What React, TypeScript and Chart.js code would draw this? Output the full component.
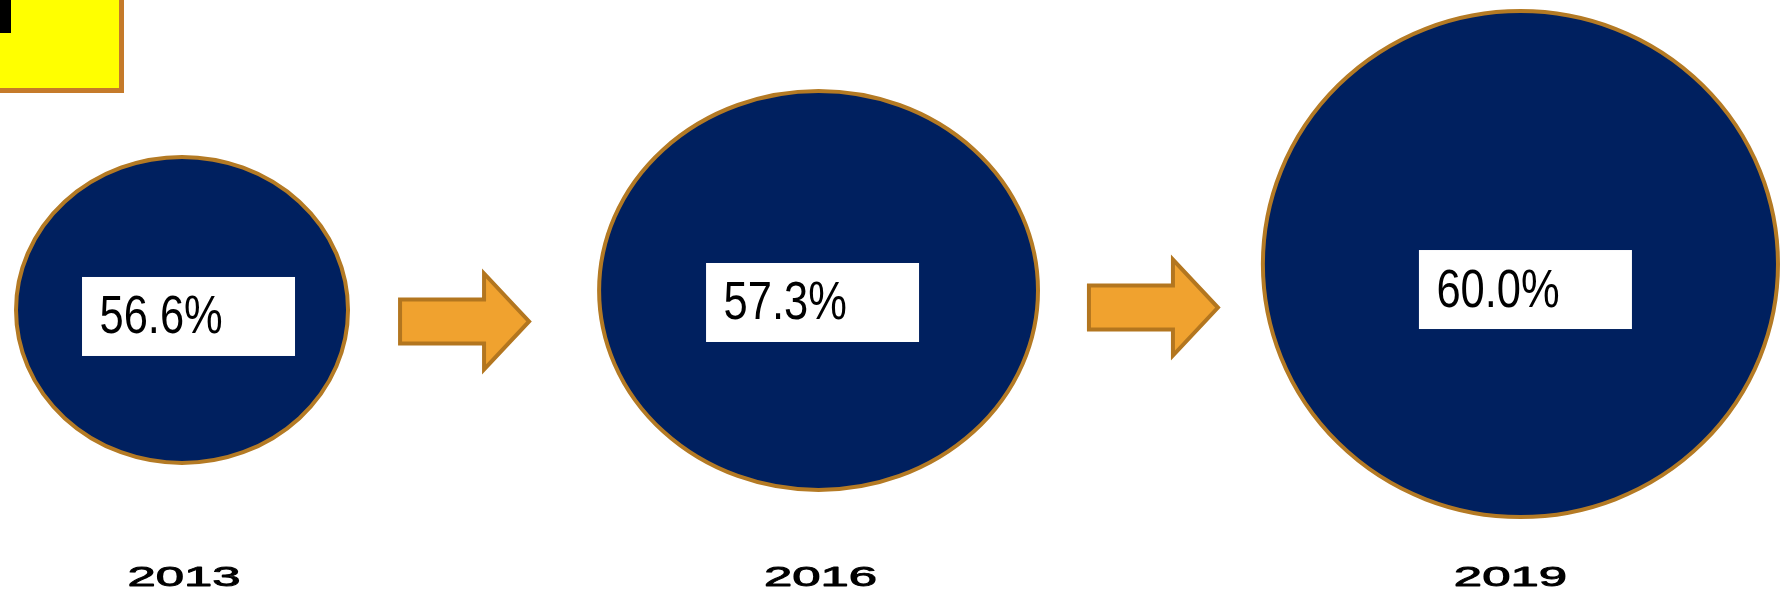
import React, { useEffect, useRef } from "react";
import { Chart, registerables } from "chart.js";

Chart.register(...registerables);

// ---- data ----
const years = ["2013", "2016", "2019"];
const rates = [56.6, 57.3, 60.0];
const bubbleX = [10.22, 45.96, 85.37];
const bubbleY = [47.99, 51.26, 55.7];
const bubbleR = [153, 199.5, 253];

// ---- styles ----
const NAVY = "#00205F";
const BUBBLE_BORDER = "#B47A24";
const ARROW_FILL = "#F0A22F";
const ARROW_STROKE = "#B3761F";
const ellipseStretch = [1.085, 1.1, 1.018];
const labelOffset = [
  [-100, -33],
  [-112.5, -27.5],
  [-101.5, -14],
];
const yearShift = [2, 2, -10];
const arrowShift = [
  [-9, 21.25],
  [3, 30.25],
];

const infographicPlugin = {
  id: "infographic",
  beforeDatasetsDraw(chart: any) {
    const ctx = chart.ctx as CanvasRenderingContext2D;
    // cut-off title box in the corner
    ctx.save();
    ctx.fillStyle = "#FFFF00";
    ctx.fillRect(-20, -20, 141.5, 110.5);
    ctx.lineWidth = 5;
    ctx.strokeStyle = "#C57A2A";
    ctx.strokeRect(-20, -20, 141.5, 110.5);
    ctx.fillStyle = "#000000";
    ctx.fillRect(0, 0, 11, 33);
    ctx.restore();

    // arrows between bubbles
    const meta = chart.getDatasetMeta(0);
    const pts = meta.data;
    ctx.save();
    for (let i = 0; i < pts.length - 1; i++) {
      const a = pts[i];
      const b = pts[i + 1];
      const ra = bubbleR[i] * ellipseStretch[i] + 2;
      const rb = bubbleR[i + 1] * ellipseStretch[i + 1] + 2;
      const cx = (a.x + ra + (b.x - rb)) / 2 + arrowShift[i][0];
      const cy = (a.y + b.y) / 2 + arrowShift[i][1];
      ctx.beginPath();
      ctx.moveTo(cx - 64.5, cy - 22);
      ctx.lineTo(cx + 19.5, cy - 22);
      ctx.lineTo(cx + 19.5, cy - 48);
      ctx.lineTo(cx + 64.5, cy);
      ctx.lineTo(cx + 19.5, cy + 48);
      ctx.lineTo(cx + 19.5, cy + 22);
      ctx.lineTo(cx - 64.5, cy + 22);
      ctx.closePath();
      ctx.fillStyle = ARROW_FILL;
      ctx.fill();
      ctx.lineWidth = 4;
      ctx.lineJoin = "miter";
      ctx.strokeStyle = ARROW_STROKE;
      ctx.stroke();
    }
    ctx.restore();
  },
  beforeDatasetDraw(chart: any, args: any) {
    const ctx = chart.ctx as CanvasRenderingContext2D;
    const meta = args.meta;
    ctx.save();
    meta.data.forEach((el: any, i: number) => {
      const r = el.options.radius;
      ctx.beginPath();
      ctx.ellipse(el.x, el.y, r * ellipseStretch[i], r, 0, 0, Math.PI * 2);
      ctx.fillStyle = NAVY;
      ctx.fill();
      ctx.lineWidth = 4;
      ctx.strokeStyle = BUBBLE_BORDER;
      ctx.stroke();
    });
    ctx.restore();
    return false;
  },
  afterDatasetsDraw(chart: any) {
    const ctx = chart.ctx as CanvasRenderingContext2D;
    const meta = chart.getDatasetMeta(0);
    ctx.save();
    meta.data.forEach((el: any, i: number) => {
      const bx = el.x + labelOffset[i][0];
      const by = el.y + labelOffset[i][1];
      ctx.fillStyle = "#FFFFFF";
      ctx.fillRect(bx, by, 213, 79);
      ctx.save();
      ctx.translate(bx + 17.5, by + 56.5);
      ctx.scale(0.82, 1);
      ctx.fillStyle = "#000000";
      ctx.font = "53px 'Liberation Sans', Arial, sans-serif";
      ctx.textAlign = "left";
      ctx.textBaseline = "alphabetic";
      ctx.fillText(rates[i].toFixed(1) + "%", 0, 0);
      ctx.restore();

      // year label
      ctx.save();
      ctx.translate(el.x + yearShift[i], 586);
      ctx.scale(1.85, 1);
      ctx.fillStyle = "#000000";
      ctx.strokeStyle = "#000000";
      ctx.lineWidth = 0.9;
      ctx.lineJoin = "round";
      ctx.font = "27.5px 'Liberation Sans', Arial, sans-serif";
      ctx.textAlign = "center";
      ctx.textBaseline = "alphabetic";
      ctx.fillText(years[i], 0, 0);
      ctx.strokeText(years[i], 0, 0);
      ctx.restore();
    });
    ctx.restore();
  },
};

export default function App() {
  const canvasRef = useRef<HTMLCanvasElement | null>(null);

  useEffect(() => {
    document.body.style.margin = "0";
    const canvas = canvasRef.current;
    if (!canvas) return;
    const chart = new Chart(canvas, {
      type: "bubble",
      data: {
        datasets: [
          {
            label: "rate",
            data: years.map((_, i) => ({ x: bubbleX[i], y: bubbleY[i], r: bubbleR[i] })),
            backgroundColor: NAVY,
            borderColor: BUBBLE_BORDER,
            borderWidth: 4,
          },
        ],
      },
      options: {
        responsive: false,
        animation: false,
        devicePixelRatio: 1,
        layout: { padding: 0, autoPadding: false },
        clip: false as any,
        scales: {
          x: { type: "linear", min: 0, max: 100, display: false },
          y: { type: "linear", min: 0, max: 100, display: false },
        },
        plugins: {
          legend: { display: false },
          tooltip: { enabled: false },
        },
        events: [],
      },
      plugins: [infographicPlugin],
    });
    return () => chart.destroy();
  }, []);

  return (
    <div style={{ position: "absolute", left: 0, top: 0, width: 1781, height: 596, background: "#FFFFFF" }}>
      <canvas ref={canvasRef} width={1781} height={596} style={{ display: "block", width: 1781, height: 596 }} />
    </div>
  );
}
